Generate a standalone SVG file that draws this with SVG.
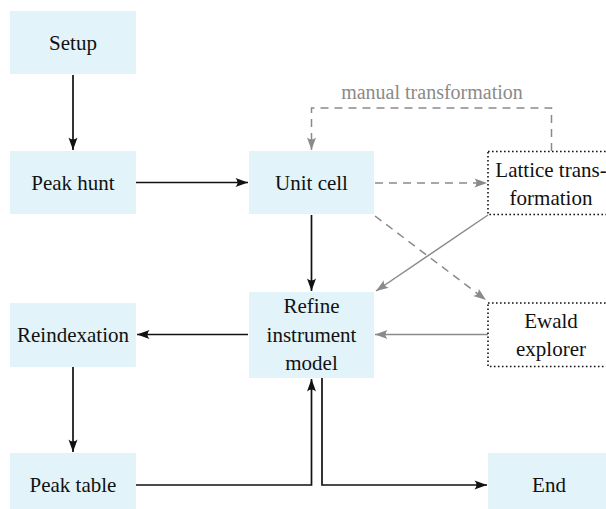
<svg xmlns="http://www.w3.org/2000/svg" width="606" height="509" viewBox="0 0 606 509">
<style>
.box{fill:#E2F4F9;stroke:none}
.dot{fill:#fff;stroke:#111;stroke-width:1.6;stroke-dasharray:1.6 2.4}
.t{font-family:'Liberation Serif','DejaVu Serif','Times New Roman',serif;font-size:21px;fill:#111;text-anchor:middle}
.lbl{font-family:'Liberation Serif','DejaVu Serif','Times New Roman',serif;font-size:20px;fill:#8a8a8a;text-anchor:middle}
.k{fill:none;stroke:#111;stroke-width:1.7}
.g{fill:none;stroke:#8a8a8a;stroke-width:1.5}
.gd{fill:none;stroke:#8a8a8a;stroke-width:1.5;stroke-dasharray:8 6}
</style>
<defs>
<marker id="ak" markerUnits="userSpaceOnUse" markerWidth="16" markerHeight="12" viewBox="-14 -6 16 12" refX="0" refY="0" orient="auto">
<path d="M0,0 L-12.5,-4.5 Q-8.5,0 -12.5,4.5 Z" fill="#111"/>
</marker>
<marker id="ag" markerUnits="userSpaceOnUse" markerWidth="16" markerHeight="12" viewBox="-14 -6 16 12" refX="0" refY="0" orient="auto">
<path d="M0,0 L-12.5,-4.5 Q-8.5,0 -12.5,4.5 Z" fill="#8a8a8a"/>
</marker>
</defs>
<g id="connectors">
<path class="k" d="M73,75 V150" marker-end="url(#ak)"/>
<path class="k" d="M136,182.5 H248" marker-end="url(#ak)"/>
<path class="gd" d="M375,183 H487" marker-end="url(#ag)"/>
<path class="gd" d="M551.5,151 V108 H311.5 V150" marker-end="url(#ag)"/>
<path class="k" d="M311.5,215 V291" marker-end="url(#ak)"/>
<path class="gd" d="M375,216 L486,300" marker-end="url(#ag)"/>
<path class="g" d="M488,215 L376,291" marker-end="url(#ag)"/>
<path class="g" d="M488,334.5 H375" marker-end="url(#ag)"/>
<path class="k" d="M248,334.5 H137" marker-end="url(#ak)"/>
<path class="k" d="M73,367 V452" marker-end="url(#ak)"/>
<path class="k" d="M136,485 H311.5 V379" marker-end="url(#ak)"/>
<path class="k" d="M322,378 V485 H487" marker-end="url(#ak)"/>
<text class="lbl" x="432" y="99" font-family="Liberation Serif, serif">manual transformation</text>
</g>
<g id="setup"><rect class="box" x="10" y="11" width="126" height="63"/><text class="t" x="73" y="50" font-family="Liberation Serif, serif">Setup</text></g>
<g id="peakhunt"><rect class="box" x="10" y="151" width="126" height="63"/><text class="t" x="73" y="190" font-family="Liberation Serif, serif">Peak hunt</text></g>
<g id="unitcell"><rect class="box" x="249" y="151" width="125" height="63"/><text class="t" x="311.5" y="190" font-family="Liberation Serif, serif">Unit cell</text></g>
<g id="lattice"><rect class="dot" x="488" y="151.5" width="126" height="63"/><text class="t" x="551" y="177" font-family="Liberation Serif, serif">Lattice trans-</text><text class="t" x="551" y="205" font-family="Liberation Serif, serif">formation</text></g>
<g id="refine"><rect class="box" x="249" y="292" width="125" height="86"/><text class="t" x="311.5" y="313" font-family="Liberation Serif, serif">Refine</text><text class="t" x="311.5" y="341.5" font-family="Liberation Serif, serif">instrument</text><text class="t" x="311.5" y="370" font-family="Liberation Serif, serif">model</text></g>
<g id="ewald"><rect class="dot" x="488" y="303" width="126" height="63.5"/><text class="t" x="551" y="328" font-family="Liberation Serif, serif">Ewald</text><text class="t" x="551" y="356" font-family="Liberation Serif, serif">explorer</text></g>
<g id="reindexation"><rect class="box" x="10" y="303" width="126" height="64"/><text class="t" x="73" y="342" font-family="Liberation Serif, serif">Reindexation</text></g>
<g id="peaktable"><rect class="box" x="10" y="453" width="126" height="63"/><text class="t" x="73" y="492" font-family="Liberation Serif, serif">Peak table</text></g>
<g id="end"><rect class="box" x="488" y="453" width="126" height="63"/><text class="t" x="549" y="492" font-family="Liberation Serif, serif">End</text></g>
</svg>
